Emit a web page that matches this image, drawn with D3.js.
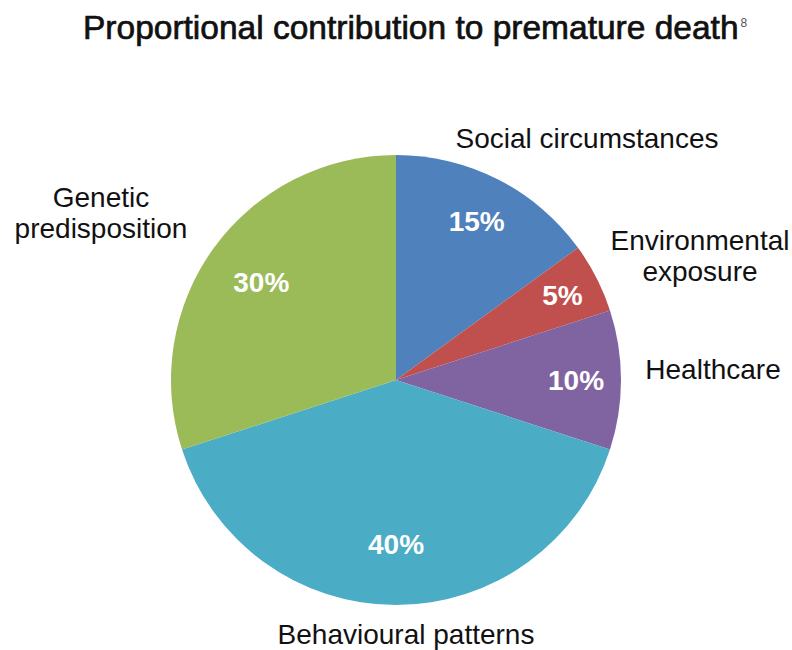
<!DOCTYPE html>
<html>
<head>
<meta charset="utf-8">
<script src="https://cdn.jsdelivr.net/npm/d3@7"></script>
<style>
  body { margin: 0; background: #fff; }
  svg text { font-family: "Liberation Sans", Arial, sans-serif; }
</style>
</head>
<body>
<div id="chart"></div>
<script>
const categories = ["Social circumstances", "Environmental exposure", "Healthcare", "Behavioural patterns", "Genetic predisposition"];
const values = [15, 5, 10, 40, 30];
const colors = ["#4f81bd", "#c0504d", "#8064a2", "#4bacc6", "#9bbb59"];
// outside label lines, split where the reference wraps
const labelLines = [["Social circumstances"], ["Environmental", "exposure"], ["Healthcare"], ["Behavioural patterns"], ["Genetic", "predisposition"]];

const w = 792, h = 650;
const cx = 396, cy = 380, r = 225;

const svg = d3.select("#chart").append("svg")
  .attr("width", w).attr("height", h);

const title = svg.append("text")
  .attr("x", 83).attr("y", 39)
  .attr("font-size", 33.5)
  .attr("fill", "#111")
  .attr("stroke", "#111")
  .attr("stroke-width", 0.7)
  .text("Proportional contribution to premature death");
const tw = title.node().getComputedTextLength();
svg.append("text")
  .attr("x", 83 + tw + 2).attr("y", 27)
  .attr("font-size", 12)
  .attr("fill", "#555")
  .text("8");

const pie = d3.pie().sort(null).value(d => d)(values);
const arc = d3.arc().innerRadius(0).outerRadius(r);

const g = svg.append("g").attr("transform", `translate(${cx},${cy})`);

g.selectAll("path").data(pie).join("path")
  .attr("d", arc)
  .attr("fill", (d, i) => colors[i]);

// percent labels inside slices
const pctR = [0.79, 0.83, 0.8, 0.73, 0.74];
g.selectAll("text.pct").data(pie).join("text")
  .attr("class", "pct")
  .attr("transform", (d, i) => {
    const a = d3.arc().innerRadius(r * pctR[i]).outerRadius(r * pctR[i]);
    const [x, y] = a.centroid(d);
    return `translate(${x},${y})`;
  })
  .attr("text-anchor", "middle")
  .attr("dy", "0.35em")
  .attr("font-size", 28)
  .attr("font-weight", "bold")
  .attr("fill", "#fff")
  .text(d => d.value + "%");

// outside category labels
const labelPos = [[587, 138], [700, 240], [713, 369], [406, 634], [101, 197]];
labelLines.forEach((lines, i) => {
  const t = svg.append("text")
    .attr("x", labelPos[i][0]).attr("y", labelPos[i][1])
    .attr("text-anchor", "middle")
    .attr("font-size", 28)
    .attr("fill", "#111");
  lines.forEach((line, j) => {
    t.append("tspan").attr("x", labelPos[i][0]).attr("dy", j === 0 ? "0.35em" : "1.1em").text(line);
  });
});
</script>
</body>
</html>
